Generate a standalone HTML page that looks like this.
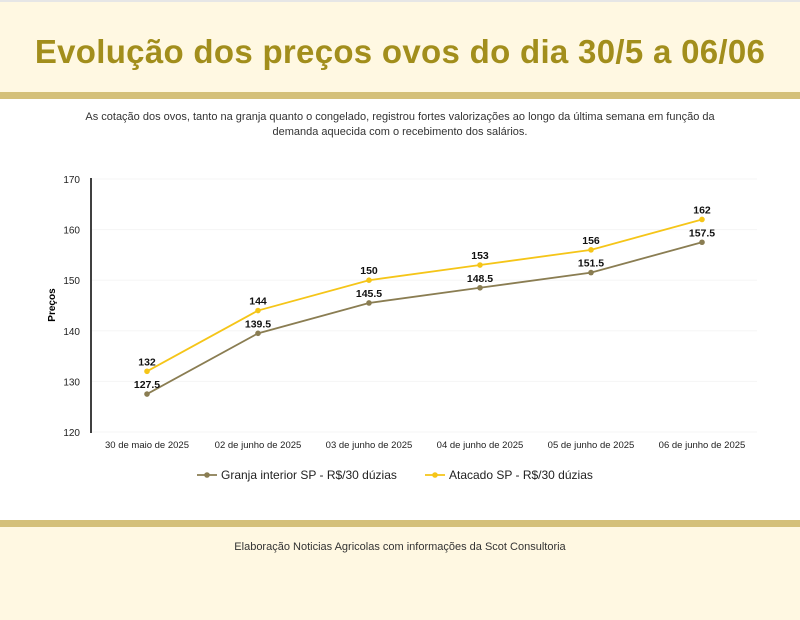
<!DOCTYPE html>
<html><head><meta charset="utf-8"><style>
body{margin:0;width:800px;height:620px;background:#fff;font-family:"Liberation Sans",sans-serif;overflow:hidden;position:relative}
#hdr{position:absolute;left:0;top:0;width:800px;height:92px;background:#fff8e2;border-top:2px solid #e6e6e6;box-sizing:border-box}
#hdr h1{margin:0;position:absolute;top:31px;width:800px;text-align:center;font-size:33px;font-weight:bold;color:#a28e1c;letter-spacing:0.3px}
.band{position:absolute;left:0;width:800px;height:7px;background:#d4c07a}
#sub{position:absolute;top:110px;left:65px;width:670px;text-align:center;font-size:11px;color:#333;line-height:15px}
#ftr{position:absolute;left:0;top:527px;width:800px;height:93px;background:#fff8e2}
#ftr div{position:absolute;top:14px;width:800px;text-align:center;font-size:11px;color:#333}
</style></head><body>
<div id="hdr"><h1>Evolução dos preços ovos do dia 30/5 a 06/06</h1></div>
<div class="band" style="top:92px"></div>
<div id="sub">As cotação dos ovos, tanto na granja quanto o congelado, registrou fortes valorizações ao longo da última semana em função da demanda aquecida com o recebimento dos salários.</div>
<svg id="chart" width="800" height="620" style="position:absolute;left:0;top:0"></svg>
<div class="band" style="top:520px"></div>
<div id="ftr"><div>Elaboração Noticias Agricolas com informações da Scot Consultoria</div></div>
<script>
const categories=["30 de maio de 2025","02 de junho de 2025","03 de junho de 2025","04 de junho de 2025","05 de junho de 2025","06 de junho de 2025"];
const granja=[127.5,139.5,145.5,148.5,151.5,157.5];
const atacado=[132,144,150,153,156,162];
const yTicks=[120,130,140,150,160,170];
const seriesNames=["Granja interior SP - R$/30 dúzias","Atacado SP - R$/30 dúzias"];
const svg=document.getElementById('chart');const NS="http://www.w3.org/2000/svg";
const x0=147,dx=111,yTop=179,yBot=432,yMin=120,yMax=170;
const X=i=>x0+i*dx, Y=v=>yBot-(v-yMin)/(yMax-yMin)*(yBot-yTop);
function mk(t,a,txt){const e=document.createElementNS(NS,t);for(const k in a)e.setAttribute(k,a[k]);if(txt!==undefined)e.textContent=txt;svg.appendChild(e);return e;}
yTicks.forEach(v=>{
 const g=mk('line',{x1:92,x2:757,y1:Y(v),y2:Y(v),stroke:'#f5f5f5','stroke-width':1});
 
 
 const t=mk('text',{x:80,y:Y(v)+4,'text-anchor':'end','font-size':10,fill:'#222'},v);
 
 
});
const ax=mk('line',{x1:91,x2:91,y1:178,y2:433,stroke:'#000','stroke-width':1.5});


const yt=mk('text',{x:55,y:305,transform:'rotate(-90 55 305)','text-anchor':'middle','font-size':10,'font-weight':'bold',fill:'#000'},'Preços');


categories.forEach((c,i)=>{const t=mk('text',{x:X(i),y:448,'text-anchor':'middle','font-size':9.5,fill:'#222'},c);
 
 });
function series(vals,color,name,labDy){
 const l=mk('polyline',{points:vals.map((v,i)=>X(i)+','+Y(v)).join(' '),fill:'none',stroke:color,'stroke-width':1.8});
 
 
 vals.forEach((v,i)=>{const c=mk('circle',{cx:X(i),cy:Y(v),r:2.8,fill:color});
  
  
  const t=mk('text',{x:X(i),y:Y(v)+labDy,'text-anchor':'middle','font-size':10.5,'font-weight':'bold',fill:'#111'},v);
  
  });
}
series(granja,'#8a7d52','granja',-6);
series(atacado,'#f5c518','atacado',-6);
function legend(x,color,label,name){
 const l=mk('line',{x1:x,x2:x+20,y1:475,y2:475,stroke:color,'stroke-width':1.8});
 
 
 const c=mk('circle',{cx:x+10,cy:475,r:2.8,fill:color});
 
 
 const t=mk('text',{x:x+24,y:479,'font-size':12,fill:'#222'},label);
 
 
}
legend(197,'#8a7d52',seriesNames[0],'granja');
legend(425,'#f5c518',seriesNames[1],'atacado');
</script>
</body></html>
